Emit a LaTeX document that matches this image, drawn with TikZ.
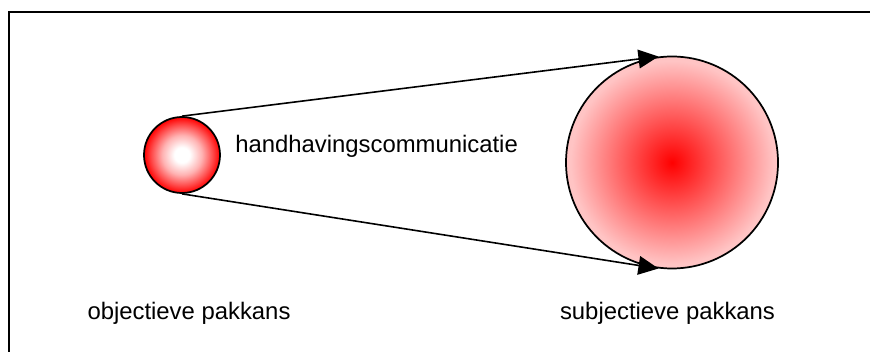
\documentclass[tikz,border=0pt]{standalone}
\usepackage{fontspec}
\setmainfont{Liberation Sans}
\usetikzlibrary{arrows.meta}

\pgfdeclareradialshading{objshade}{\pgfpoint{0bp}{0bp}}{color(0bp)=(white); color(5bp)=(white); color(13bp)=(red!30); color(20bp)=(red!70); color(25bp)=(red); color(50bp)=(red)}
\pgfdeclareradialshading{subjshade}{\pgfpoint{0bp}{0bp}}{color(0bp)=(red); color(24bp)=(red!23); color(50bp)=(red!23)}

\begin{document}
\begin{tikzpicture}[x=0.75pt, y=-0.75pt,
    ball/.style={circle, draw, line width=1.3pt, inner sep=0pt},
    label text/.style={font=\fontsize{17.9}{21}\selectfont, inner sep=0pt},
    conn/.style={line width=1.2pt, -{Triangle[length=15pt,width=14pt]}, shorten >=-1pt}]

    % Canvas
    \useasboundingbox (0,0) rectangle (870,352);
    \draw[line width=1.5pt] (9,12) rectangle (885,370);

    % Balls
    \node[ball, minimum size=57pt, shading=objshade] (obj) at (182,155) {};
    \node[ball, minimum size=159pt, shading=subjshade] (subj) at (672,162.5) {};

    % Nodes (Texts)
    \node[label text, anchor=base west] (comm) at (235,153) {handhavingscommunicatie};
    \node[label text, anchor=base] (objlabel) at (189,320) {objectieve pakkans};
    \node[label text, anchor=base] (subjlabel) at (667.5,320) {subjectieve pakkans};

    % Arrows
    \draw[conn] (obj.north) -- (subj.98);
    \draw[conn] (obj.south) -- (subj.262);

\end{tikzpicture}
\end{document}
